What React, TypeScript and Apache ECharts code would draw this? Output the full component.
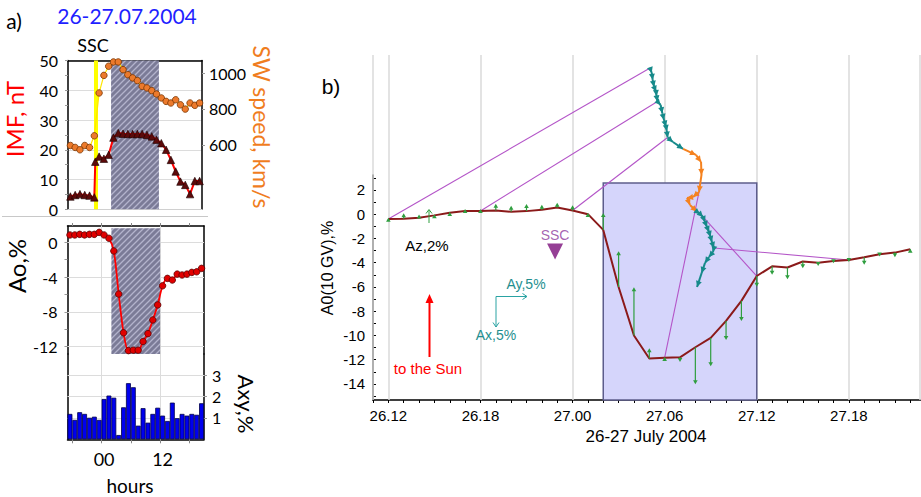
import React, { useEffect, useRef } from "react";
import * as echarts from "echarts";

// ---------------- Panel a (hours relative to 27 July 2004, 00 UT) ----------------
const aHours = [-7, -6, -5, -4, -3, -2, -1, 0, 1, 2, 3, 4, 5, 6, 7, 8, 9, 10, 11, 12, 13, 14, 15, 16, 17, 18, 19, 20];
const imfHours = [-7, -6, -5, -4, -3, -2, -1.8, -1, 0, 1, 2, 3, 4, 5, 6, 7, 8, 9, 10, 11, 12, 13, 14, 15, 16, 17, 18, 19, 20];
const imfValues = [4.3, 4.8, 5.1, 4.8, 4.6, 4.0, 16.0, 17.7, 17.0, 18.3, 24.1, 25.6, 25.4, 25.3, 25.3, 25.3, 25.3, 25.0, 24.5, 23.4, 22.2, 20.0, 16.6, 12.7, 9.3, 8.2, 5.1, 9.5, 9.5];
const swValues = [596, 585, 572, 596, 585, 650, 889, 987, 1038, 1062, 1062, 1019, 991, 973, 958, 926, 917, 902, 883, 861, 842, 833, 851, 823, 799, 833, 820, 833];
const aoValues = [0.84, 0.84, 0.91, 0.84, 0.91, 0.91, 1.14, 0.84, 0.46, -1.0, -5.95, -10.4, -12.45, -12.4, -12.4, -11.4, -10.5, -8.93, -7.2, -5.0, -4.15, -4.34, -3.66, -3.76, -3.66, -3.46, -3.39, -3.0];
const axyValues = [1.19, 0.91, 1.27, 1.19, 1.01, 1.06, 0.91, 1.89, 2.05, 1.95, 0.2, 1.5, 2.63, 2.44, 0.64, 1.46, 0.78, 1.19, 1.48, 1.11, 0.86, 1.72, 0.99, 1.19, 1.11, 1.19, 1.15, 1.69];
const aShade = [1.5, 11.5];
const aSscHour = -1.75;
const aTickHours = [-6.5, -0.5, 5.5, 11.5, 17.5];
const aLabelHours = [0, 12];
const imfTicks = [0, 10, 20, 30, 40, 50];
const swTicks = [600, 800, 1000];
const aoTicks = [-12, -8, -4, 0];
const axyTicks = [1, 2, 3];

// ---------------- Panel b (hours from 26 July 2004, 00 UT) ----------------
const bHours = [12, 13, 14, 15, 16, 17, 18, 19, 20, 21, 22, 23, 24, 25, 26, 27, 28, 29, 30, 31, 32, 33, 34, 35, 36, 37, 38, 39, 40, 41, 42, 43, 44, 45, 46];
const a0Values = [-0.4, -0.37, -0.3, -0.1, 0.12, 0.26, 0.26, 0.3, 0.2, 0.25, 0.37, 0.54, 0.3, 0.0, -1.3, -6.0, -10.0, -11.9, -11.83, -11.8, -10.97, -10.2, -8.8, -7.15, -5.1, -4.3, -4.4, -3.9, -4.0, -3.86, -3.78, -3.55, -3.3, -3.17, -2.9];
// Az arrows (length in A0 axis units, + = up)
const azArrow = [0.1, 0.44, 0.28, 0.1, 0.05, 0.17, 0.17, 0.55, 0.5, 0.58, 0.4, 0.4, 0.44, 0.1, 1.4, 2.94, 3.98, 0.85, 0.05, -0.38, -3.05, -2.34, -1.57, -1.65, -0.88, -0.69, -0.96, -0.55, -0.27, -0.19, -0.16, -0.63, -0.19, -0.38, 0.05];
// Hodograph of the equatorial component (hourly, from 26.12), in chart units
const hodoX = [29.05, 29.16, 29.22, 29.31, 29.44, 29.47, 29.53, 29.74, 29.85, 29.96, 30.09, 30.14, 30.19, 30.54, 31.2, 32.04, 32.37, 32.4, 32.24, 31.85, 31.46, 31.65, 32.09, 32.3, 32.5, 32.63, 32.76, 32.89, 32.99, 33.08, 33.21, 33.15, 32.89, 32.63, 32.41, 32.11];
const hodoY = [12.05, 11.64, 11.07, 10.51, 10.1, 9.74, 9.29, 9.0, 8.32, 7.77, 7.21, 6.86, 6.32, 5.95, 5.38, 4.88, 4.3, 3.23, 1.83, 1.42, 1.34, 0.76, 0.22, 0.02, -0.23, -0.64, -1.06, -1.47, -1.88, -2.29, -2.79, -3.12, -3.53, -4.02, -4.85, -6.0];
const hodoOrange = [14, 21]; // segment index range drawn in orange
const connectorHours = [12, 18, 24, 30, 36, 42];
const bShade = [26, 36, 2.57];
const bSsc = [22.86, -3.08];
const bLabelHours = [12, 18, 24, 30, 36, 42];
const bGridHours = [11, 12, 18, 24, 30, 36, 42, 46.6];
const bYLabels = [-14, -12, -10, -8, -6, -4, -2, 0, 2];

const FA = "Lato, 'Open Sans', sans-serif";
const FB = "'Liberation Sans', Arial, sans-serif";
const GREEN = "#2f9e3f";
const TEAL = "#168a8a";
const ORANGE = "#f5821f";

const txt = (text: string, x: number, y: number, size: number, color: string, family: string, rotation = 0) => ({
  type: "text",
  x,
  y,
  rotation,
  silent: true,
  z: 100,
  style: {
    text,
    fill: color,
    fontSize: size,
    fontFamily: family,
    align: "center",
    verticalAlign: "middle",
    textAlign: "center",
    textVerticalAlign: "middle",
  },
});

const gline = (x1: number, y1: number, x2: number, y2: number, stroke: string, w: number) => ({
  type: "line",
  silent: true,
  z: 100,
  shape: { x1, y1, x2, y2 },
  style: { stroke, lineWidth: w },
});

const gpoly = (points: number[][], stroke: string, w: number) => ({
  type: "polyline",
  silent: true,
  z: 100,
  shape: { points },
  style: { stroke, lineWidth: w, fill: "none" },
});

const frameLine = (w = 1.5) => ({ show: true, onZero: false, lineStyle: { color: "#000", width: w } });

export default function App() {
  const ref = useRef<HTMLDivElement>(null);

  useEffect(() => {
    if (!ref.current) return;
    const chart = echarts.init(ref.current, undefined, { renderer: "svg" });

    const hatch = document.createElement("canvas");
    hatch.width = 6;
    hatch.height = 6;
    const ctx = hatch.getContext("2d");
    if (ctx) {
      ctx.fillStyle = "#7b7b97";
      ctx.fillRect(0, 0, 6, 6);
      ctx.strokeStyle = "#b3b3cc";
      ctx.lineWidth = 1.3;
      ctx.beginPath();
      ctx.moveTo(0, 6);
      ctx.lineTo(6, 0);
      ctx.moveTo(-3, 3);
      ctx.lineTo(3, -3);
      ctx.moveTo(3, 9);
      ctx.lineTo(9, 3);
      ctx.stroke();
    }
    const hatchFill: any = { image: hatch, repeat: "repeat" };

    const connectors = connectorHours.map((h) => {
      const i = bHours.indexOf(h);
      const k = h - bHours[0];
      return [h, a0Values[i], hodoX[k], hodoY[k]];
    });
    const hodoSegs = hodoX.slice(0, -1).map((x, i) => [
      x,
      hodoY[i],
      hodoX[i + 1],
      hodoY[i + 1],
      i >= hodoOrange[0] && i <= hodoOrange[1] ? 1 : 0,
    ]);
    const azData = bHours.map((h, i) => [h, a0Values[i], a0Values[i] + azArrow[i]]);

    const bLabel = (v: number) => {
      const day = v < 24 ? 26 : 27;
      const hh = v % 24;
      return `${day}.${hh < 10 ? "0" + hh : hh}`;
    };

    const option: any = {
      animation: false,
      backgroundColor: "#ffffff",
      grid: [
        { left: 68, top: 60.5, width: 134, height: 148.8 },
        { left: 67.5, top: 226, width: 136.5, height: 128 },
        { left: 67.5, top: 354, width: 136.5, height: 85.3 },
        { left: 373, top: 55, width: 548, height: 345 },
        { left: 373, top: 175, width: 548, height: 225 },
      ],
      xAxis: [
        {
          gridIndex: 0, type: "value", min: -7.5, max: 20.5, position: "bottom",
          axisLine: { show: true, onZero: false, lineStyle: { color: "#d0d0d0", width: 1 } },
          axisTick: { show: false }, axisLabel: { show: false }, splitLine: { show: false },
        },
        {
          gridIndex: 0, type: "value", min: -7.5, max: 20.5, position: "top",
          axisLine: frameLine(), axisTick: { show: false }, axisLabel: { show: false }, splitLine: { show: false },
        },
        {
          gridIndex: 1, type: "value", min: -7.5, max: 20.5, position: "top",
          axisLine: frameLine(),
          axisTick: { show: true, customValues: aTickHours, length: 3, lineStyle: { color: "#888" } },
          axisLabel: { show: false }, splitLine: { show: false },
        },
        {
          gridIndex: 2, type: "value", min: -7.5, max: 20.5, position: "bottom",
          axisLine: frameLine(),
          axisTick: { show: true, customValues: aTickHours, length: 4, lineStyle: { color: "#888" } },
          axisLabel: {
            customValues: aLabelHours,
            formatter: (v: number) => (v === 0 ? "00" : String(v)),
            fontSize: 18, fontFamily: FA, color: "#000", margin: 11,
          },
          splitLine: { show: false },
        },
        {
          gridIndex: 3, type: "value", min: 11, max: 46.7, position: "bottom",
          axisLine: frameLine(1.6),
          axisTick: { show: true, customValues: bHours.concat([11]), length: 3, lineStyle: { color: "#000" } },
          axisLabel: { customValues: bLabelHours, formatter: bLabel, fontSize: 15, fontFamily: FB, color: "#000", margin: 8 },
          splitLine: { show: false },
        },
        { gridIndex: 4, type: "value", min: 11, max: 46.7, show: false },
      ],
      yAxis: [
        {
          gridIndex: 0, type: "value", min: 0, max: 50, interval: 10, position: "left",
          axisLine: frameLine(),
          axisTick: { show: true, length: 3, lineStyle: { color: "#999" } },
          minorTick: { show: true, splitNumber: 2, length: 3, lineStyle: { color: "#999" } },
          axisLabel: { customValues: imfTicks, fontSize: 16, fontFamily: FA, color: "#000", margin: 10 },
          splitLine: { show: true, lineStyle: { color: "#dcdcdc", width: 1 } },
        },
        {
          gridIndex: 0, type: "value", min: 240, max: 1070, position: "right",
          axisLine: frameLine(),
          axisTick: { show: true, customValues: swTicks, length: 3, lineStyle: { color: "#999" } },
          axisLabel: {
            customValues: swTicks, formatter: (v: number) => String(v),
            fontSize: 16, fontFamily: FA, color: "#000", margin: 7,
          },
          splitLine: { show: false },
        },
        {
          gridIndex: 1, type: "value", min: -12.84, max: 1.87, position: "left",
          axisLine: frameLine(),
          axisTick: { show: true, customValues: [-12, -10, -8, -6, -4, -2, 0], length: 3, lineStyle: { color: "#999" } },
          axisLabel: { customValues: aoTicks, fontSize: 16, fontFamily: FA, color: "#000", margin: 10 },
          splitLine: { show: false },
        },
        {
          gridIndex: 1, type: "value", min: -12.84, max: 1.87, position: "right",
          axisLine: frameLine(), axisTick: { show: false }, axisLabel: { show: false }, splitLine: { show: false },
        },
        {
          gridIndex: 2, type: "value", min: 0, max: 4, position: "left",
          axisLine: frameLine(), axisTick: { show: false }, axisLabel: { show: false }, splitLine: { show: false },
        },
        {
          gridIndex: 2, type: "value", min: 0, max: 4, position: "right",
          axisLine: frameLine(),
          axisTick: { show: true, customValues: axyTicks, length: 3, lineStyle: { color: "#999" } },
          axisLabel: { customValues: axyTicks, fontSize: 16, fontFamily: FA, color: "#000", margin: 8 },
          splitLine: { show: false },
        },
        { gridIndex: 3, type: "value", min: -15.32, max: 13.12, show: false },
        {
          gridIndex: 4, type: "value", min: -15.32, max: 3.23, position: "left",
          axisLine: frameLine(1.6),
          axisTick: {
            show: true, inside: true, length: 3, lineStyle: { color: "#000" },
            customValues: [-15, -14, -13, -12, -11, -10, -9, -8, -7, -6, -5, -4, -3, -2, -1, 0, 1, 2, 3],
          },
          axisLabel: { customValues: bYLabels, fontSize: 15, fontFamily: FB, color: "#000", margin: 8 },
          splitLine: { show: false },
        },
      ],
      series: [
        // ---- panel a, top: solar wind speed
        {
          type: "line", xAxisIndex: 0, yAxisIndex: 1, z: 5, silent: true,
          data: aHours.map((h, i) => [h, swValues[i]]),
          lineStyle: { color: "#ffe600", width: 1.2 },
          symbol: "circle", symbolSize: 6.5,
          itemStyle: { color: "#ec7a2c", borderColor: "#7a3500", borderWidth: 0.8 },
          markArea: { silent: true, z: 2, itemStyle: { color: hatchFill }, data: [[{ xAxis: aShade[0] }, { xAxis: aShade[1] }]] },
          markLine: {
            silent: true, symbol: "none", z: 3, label: { show: false },
            lineStyle: { color: "#ffff00", width: 4, type: "solid" },
            data: [{ xAxis: aSscHour }],
          },
        },
        // ---- panel a, top: IMF
        {
          type: "line", xAxisIndex: 0, yAxisIndex: 0, z: 6, silent: true,
          data: imfHours.map((h, i) => [h, imfValues[i]]),
          lineStyle: { color: "#ff0000", width: 2 },
          symbol: "triangle", symbolSize: 7.5,
          itemStyle: { color: "#5c0a0a", borderColor: "#1a0000", borderWidth: 0.6 },
        },
        // ---- panel a, middle: Ao
        {
          type: "line", xAxisIndex: 2, yAxisIndex: 2, z: 5, silent: true, smooth: 0.3,
          data: aHours.map((h, i) => [h, aoValues[i]]),
          lineStyle: { color: "#ff0000", width: 1.8 },
          symbol: "circle", symbolSize: 6.5,
          itemStyle: { color: "#e00000", borderColor: "#5a0000", borderWidth: 0.8 },
          markArea: {
            silent: true, z: 2, itemStyle: { color: hatchFill },
            data: [[{ xAxis: aShade[0], yAxis: 1.6 }, { xAxis: aShade[1], yAxis: -12.84 }]],
          },
          markLine: {
            silent: true, symbol: "none", z: 1, label: { show: false },
            lineStyle: { color: "#dcdcdc", width: 1, type: "solid" },
            data: [...aoTicks.map((v) => ({ yAxis: v })), { xAxis: aTickHours[1] }, { xAxis: aTickHours[3] }],
          },
        },
        // ---- panel a, bottom: Axy
        {
          type: "bar", xAxisIndex: 3, yAxisIndex: 4, z: 5, silent: true,
          data: aHours.map((h, i) => [h, axyValues[i]]),
          barWidth: 4.9,
          itemStyle: { color: "#0000ee", borderColor: "#00004a", borderWidth: 0.8 },
          markLine: {
            silent: true, symbol: "none", z: 1, label: { show: false },
            lineStyle: { color: "#dcdcdc", width: 1, type: "solid" },
            data: [...axyTicks.map((v) => ({ yAxis: v })), { xAxis: aTickHours[1] }, { xAxis: aTickHours[3] }],
          },
        },
        // ---- panel b: A0
        {
          type: "line", xAxisIndex: 4, yAxisIndex: 6, z: 6, silent: true,
          data: bHours.map((h, i) => [h, a0Values[i]]),
          symbol: "none",
          lineStyle: { color: "#8b1a1a", width: 2 },
          markArea: {
            silent: true, z: 2,
            itemStyle: { color: "#d5d5fb", borderColor: "#5d5d8c", borderWidth: 1.5 },
            data: [[{ xAxis: bShade[0], yAxis: bShade[2] }, { xAxis: bShade[1], yAxis: -15.32 }]],
          },
          markLine: {
            silent: true, symbol: "none", z: 1, label: { show: false },
            lineStyle: { color: "#dadada", width: 1.5, type: "solid" },
            data: bGridHours.map((h) => ({ xAxis: h })),
          },
        },
        // connectors A0 -> hodograph
        {
          type: "custom", xAxisIndex: 4, yAxisIndex: 6, z: 4, silent: true,
          data: connectors,
          renderItem: (_p: any, api: any) => {
            const p0 = api.coord([api.value(0), api.value(1)]);
            const p1 = api.coord([api.value(2), api.value(3)]);
            return {
              type: "line",
              shape: { x1: p0[0], y1: p0[1], x2: p1[0], y2: p1[1] },
              style: { stroke: "#b455c8", lineWidth: 1.1 },
            };
          },
        },
        // Az arrows
        {
          type: "custom", xAxisIndex: 4, yAxisIndex: 6, z: 7, silent: true,
          data: azData,
          renderItem: (_p: any, api: any) => {
            const p0 = api.coord([api.value(0), api.value(1)]);
            const p1 = api.coord([api.value(0), api.value(2)]);
            const dir = p1[1] <= p0[1] ? 1 : -1;
            const hl = 4;
            const hw = 2.3;
            return {
              type: "group",
              children: [
                {
                  type: "line",
                  shape: { x1: p0[0], y1: p0[1], x2: p1[0], y2: p1[1] + dir * 2 },
                  style: { stroke: GREEN, lineWidth: 1.2 },
                },
                {
                  type: "polygon",
                  shape: { points: [[p1[0], p1[1]], [p1[0] - hw, p1[1] + dir * hl], [p1[0] + hw, p1[1] + dir * hl]] },
                  style: { fill: GREEN },
                },
              ],
            };
          },
        },
        // hodograph
        {
          type: "custom", xAxisIndex: 4, yAxisIndex: 6, z: 8, silent: true,
          data: hodoSegs,
          renderItem: (_p: any, api: any) => {
            const p0 = api.coord([api.value(0), api.value(1)]);
            const p1 = api.coord([api.value(2), api.value(3)]);
            const col = api.value(4) === 1 ? ORANGE : TEAL;
            const dx = p1[0] - p0[0];
            const dy = p1[1] - p0[1];
            const len = Math.sqrt(dx * dx + dy * dy) || 1;
            const ux = dx / len;
            const uy = dy / len;
            const hl = 6;
            const hw = 3;
            const bx = p1[0] - ux * hl;
            const by = p1[1] - uy * hl;
            return {
              type: "group",
              children: [
                { type: "line", shape: { x1: p0[0], y1: p0[1], x2: p1[0], y2: p1[1] }, style: { stroke: col, lineWidth: 2 } },
                {
                  type: "polygon",
                  shape: { points: [[p1[0], p1[1]], [bx - uy * hw, by + ux * hw], [bx + uy * hw, by - ux * hw]] },
                  style: { fill: col },
                },
              ],
            };
          },
        },
        // SSC marker
        {
          type: "scatter", xAxisIndex: 4, yAxisIndex: 6, z: 8, silent: true,
          data: [bSsc],
          symbol: "triangle", symbolRotate: 180, symbolSize: [16, 16],
          itemStyle: { color: "#7b0f7b" },
          label: { show: true, position: "top", distance: 2, formatter: "SSC", color: "#8e3a9e", fontSize: 14, fontFamily: FB },
        },
      ],
      graphic: [
        // panel a texts
        txt("a)", 14, 20, 21, "#000", FA),
        txt("26-27.07.2004", 127, 15, 21, "#1f1fff", FA),
        txt("SSC", 93, 45, 18, "#000", FA),
        txt("IMF, nT", 14, 119, 24, "#ff0000", FA, Math.PI / 2),
        txt("SW speed, km/s", 262, 127, 23, "#f07d1e", FA, -Math.PI / 2),
        txt("Ao,%", 16, 266, 24, "#000", FA, Math.PI / 2),
        txt("Axy,%", 246, 404, 22, "#000", FA, -Math.PI / 2),
        txt("hours", 130, 485, 19, "#000", FA),
        gline(2, 216.5, 208, 216.5, "#c8c8c8", 1),
        // panel b texts
        txt("b)", 331, 86, 21, "#000", FB),
        txt("A0(10 GV),%", 327, 268, 16, "#000", FB, Math.PI / 2),
        txt("26-27 July 2004", 646, 436, 17, "#000", FB),
        txt("Az,2%", 427, 245, 15, "#000", FB),
        gline(429, 223, 429, 210, GREEN, 1),
        gpoly([[426, 213.5], [429, 209.5], [432, 213.5]], GREEN, 1),
        txt("Ay,5%", 526, 284, 14, "#1f8f8f", FB),
        txt("Ax,5%", 496, 335, 14, "#1f8f8f", FB),
        gline(496, 296.5, 527, 296.5, "#2aa3a3", 1),
        gline(496, 296.5, 496, 327, "#2aa3a3", 1),
        gpoly([[522.5, 293.5], [527, 296.5], [522.5, 299.5]], "#2aa3a3", 1),
        gpoly([[493, 322.5], [496, 327], [499, 322.5]], "#2aa3a3", 1),
        gline(429.5, 357, 429.5, 300, "#ff0000", 2),
        {
          type: "polygon", silent: true, z: 100,
          shape: { points: [[429.5, 294], [425.5, 303], [433.5, 303]] },
          style: { fill: "#ff0000" },
        },
        txt("to the Sun", 428, 368, 15, "#ff0000", FB),
      ],
    };

    chart.setOption(option);
    return () => chart.dispose();
  }, []);

  return (
    <div
      ref={ref}
      style={{ position: "absolute", left: 0, top: 0, width: 921, height: 497, background: "#fff" }}
    />
  );
}
